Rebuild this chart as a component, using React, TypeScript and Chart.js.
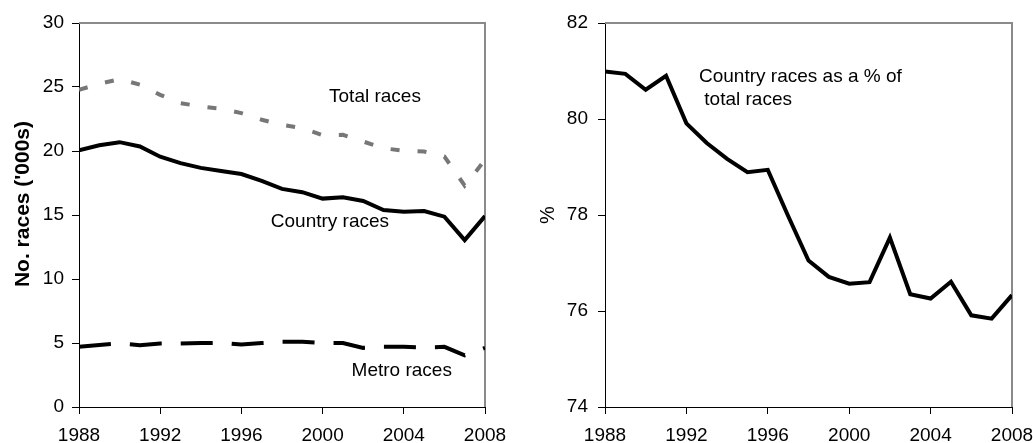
import React, { useEffect, useRef } from "react";
import { Chart, registerables } from "chart.js";

Chart.register(...registerables);

// ---------- data ----------
const years = [1988, 1989, 1990, 1991, 1992, 1993, 1994, 1995, 1996, 1997, 1998, 1999, 2000, 2001, 2002, 2003, 2004, 2005, 2006, 2007, 2008];
const totalRaces = [24.78, 25.25, 25.62, 25.18, 24.39, 23.74, 23.48, 23.3, 22.96, 22.44, 22.05, 21.78, 21.24, 21.26, 20.74, 20.22, 20.01, 19.96, 19.57, 17.3, 19.3];
const countryRaces = [20.05, 20.45, 20.69, 20.35, 19.55, 19.05, 18.68, 18.44, 18.2, 17.66, 17.04, 16.78, 16.28, 16.38, 16.1, 15.39, 15.26, 15.31, 14.87, 13.04, 14.92];
const metroRaces = [4.7, 4.85, 4.96, 4.83, 4.96, 4.96, 5.0, 5.0, 4.88, 5.0, 5.09, 5.09, 5.0, 5.0, 4.62, 4.7, 4.7, 4.65, 4.7, 4.04, 4.62];
const countryPct = [80.99, 80.94, 80.61, 80.9, 79.91, 79.5, 79.17, 78.89, 78.94, 77.98, 77.05, 76.71, 76.57, 76.6, 77.53, 76.35, 76.26, 76.61, 75.91, 75.84, 76.33];

const xTicks = [1988, 1992, 1996, 2000, 2004, 2008];
const leftYTicks = [0, 5, 10, 15, 20, 25, 30];
const rightYTicks = [74, 76, 78, 80, 82];

const leftTitle = "No. races ('000s)";
const rightTitle = "%";

const leftLabels = [
  { text: "Total races", x: 2002.58, y: 24.2, align: "center" },
  { text: "Country races", x: 2000.36, y: 14.5, align: "center" },
  { text: "Metro races", x: 2003.9, y: 2.82, align: "center" },
];
const rightLabels = [
  { text: "Country races as a % of", x: 1992.62, y: 80.89, align: "left" },
  { text: " total races", x: 1992.62, y: 80.41, align: "left" },
];

const FONT = '"Liberation Sans", Arial, Helvetica, sans-serif';
const FS = 19;

const toPts = (vals: number[]) => years.map((yr, i) => ({ x: yr, y: vals[i] }));

const framePlugin = {
  id: "frame",
  beforeDatasetsDraw(chart: any) {
    const { ctx, chartArea: a } = chart;
    ctx.save();
    ctx.strokeStyle = "#8a8a8a";
    ctx.lineWidth = 2;
    ctx.beginPath();
    ctx.moveTo(a.left, a.top);
    ctx.lineTo(a.right, a.top);
    ctx.lineTo(a.right, a.bottom);
    ctx.stroke();
    ctx.restore();
  },
};

const labelPlugin = {
  id: "labels",
  afterDraw(chart: any, _args: any, opts: any) {
    const { ctx } = chart;
    const xs = chart.scales.x;
    const ys = chart.scales.y;
    ctx.save();
    ctx.fillStyle = "#000";
    ctx.font = `${FS}px ${FONT}`;
    ctx.textBaseline = "middle";
    (opts.items || []).forEach((it: any) => {
      ctx.textAlign = it.align;
      ctx.fillText(it.text, xs.getPixelForValue(it.x), ys.getPixelForValue(it.y));
    });
    if (opts.title) {
      ctx.translate(opts.title.x, opts.title.y);
      ctx.rotate(-Math.PI / 2);
      ctx.font = `bold 21px ${FONT}`;
      ctx.textAlign = "center";
      ctx.fillText(opts.title.text, 0, 0);
    }
    ctx.restore();
  },
};

function axisCommon() {
  return {
    grid: { display: true, drawOnChartArea: false, drawTicks: true, tickLength: 7, color: "#000", lineWidth: 1 },
    border: { display: true, color: "#000", width: 1 },
  };
}

function makeX() {
  return {
    type: "linear",
    min: 1988,
    max: 2008,
    afterBuildTicks: (s: any) => {
      s.ticks = xTicks.map((v) => ({ value: v }));
    },
    ticks: {
      font: { size: FS, family: FONT },
      color: "#000",
      padding: 10,
      maxRotation: 0,
      autoSkip: false,
      callback: (v: any) => String(v),
    },
    ...axisCommon(),
    afterFit: (s: any) => {
      s.height = 36;
      s.paddingLeft = 0;
      s.paddingRight = 0;
    },
  };
}

function makeY(ticks: number[], width: number, pad: number, title?: any) {
  return {
    type: "linear",
    min: ticks[0],
    max: ticks[ticks.length - 1],
    afterBuildTicks: (s: any) => {
      s.ticks = ticks.map((v) => ({ value: v }));
    },
    ticks: {
      font: { size: FS, family: FONT },
      color: "#000",
      padding: pad,
      callback: (v: any) => String(v),
    },
    title: title || { display: false },
    ...axisCommon(),
    afterFit: (s: any) => {
      s.width = width;
      s.paddingTop = 0;
      s.paddingBottom = 0;
    },
  };
}

function LeftChart() {
  const ref = useRef<HTMLCanvasElement>(null);
  useEffect(() => {
    const chart = new Chart(ref.current as HTMLCanvasElement, {
      type: "line",
      data: {
        datasets: [
          { label: "Total races", data: toPts(totalRaces), borderColor: "#777777", borderWidth: 4, borderDash: [9, 18], pointRadius: 0, tension: 0, fill: false },
          { label: "Country races", data: toPts(countryRaces), borderColor: "#000000", borderWidth: 4, pointRadius: 0, tension: 0, fill: false },
          { label: "Metro races", data: toPts(metroRaces), borderColor: "#000000", borderWidth: 4, borderDash: [32, 19], pointRadius: 0, tension: 0, fill: false },
        ],
      },
      options: {
        responsive: false,
        animation: false,
        layout: { padding: { top: 23, right: 31, bottom: 0, left: 0 } },
        plugins: {
          legend: { display: false },
          tooltip: { enabled: false },
          labels: { items: leftLabels, title: { text: leftTitle, x: 23, y: 204 } },
        } as any,
        scales: { x: makeX(), y: makeY(leftYTicks, 79, 8) } as any,
      },
      plugins: [framePlugin, labelPlugin],
    } as any);
    return () => chart.destroy();
  }, []);
  return <canvas ref={ref} width={516} height={443} style={{ position: "absolute", left: 0, top: 0 }} />;
}

function RightChart() {
  const ref = useRef<HTMLCanvasElement>(null);
  useEffect(() => {
    const chart = new Chart(ref.current as HTMLCanvasElement, {
      type: "line",
      data: {
        datasets: [
          { label: "Country races as a % of total races", data: toPts(countryPct), borderColor: "#000000", borderWidth: 4, pointRadius: 0, tension: 0, fill: false },
        ],
      },
      options: {
        responsive: false,
        animation: false,
        layout: { padding: { top: 23, right: 21, bottom: 0, left: 0 } },
        plugins: {
          legend: { display: false },
          tooltip: { enabled: false },
          labels: { items: rightLabels },
        } as any,
        scales: {
          x: makeX(),
          y: makeY(rightYTicks, 89, 10, {
            display: true,
            text: rightTitle,
            color: "#000",
            font: { size: 20, family: FONT },
            padding: { top: 20, bottom: 0 },
          }),
        } as any,
      },
      plugins: [framePlugin, labelPlugin],
    } as any);
    return () => chart.destroy();
  }, []);
  return <canvas ref={ref} width={517} height={443} style={{ position: "absolute", left: 516, top: 0 }} />;
}

export default function App() {
  return (
    <div style={{ position: "absolute", left: 0, top: 0, width: 1033, height: 443, background: "#fff", overflow: "hidden" }}>
      <LeftChart />
      <RightChart />
    </div>
  );
}
